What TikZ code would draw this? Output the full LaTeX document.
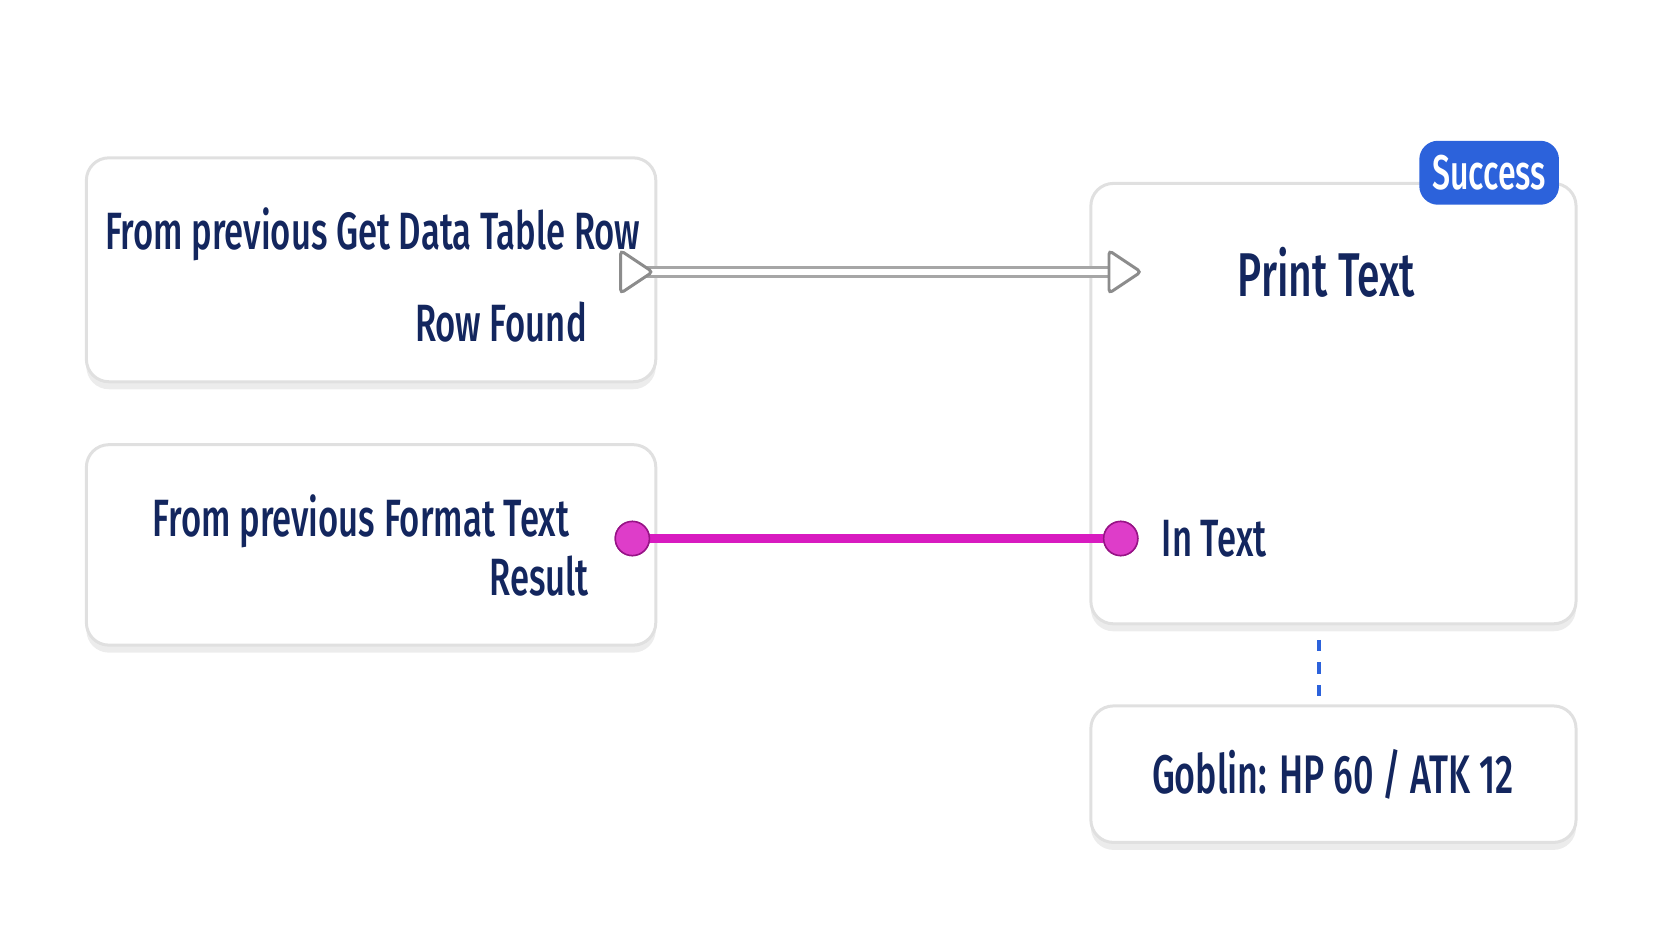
\documentclass[tikz,border=0pt]{standalone}
\usepackage{fontspec}
\setmainfont{Fira Sans}[FakeStretch=0.66, BoldFont={Fira Sans Medium}]
\usetikzlibrary{positioning,shadows}
\definecolor{navy}{HTML}{13265E}
\definecolor{pinkwire}{HTML}{D81BC0}
\definecolor{badge}{HTML}{2C62DB}
\tikzset{
  box/.style={draw=black!12, fill=white, rounded corners=6pt, line width=0.8pt,
    drop shadow={shadow xshift=0pt, shadow yshift=-2pt, opacity=0.15}},
  lbl/.style={text=navy, font=\fontsize{14}{17}\selectfont\bfseries, inner sep=0pt},
  pin/.style={circle, draw=pinkwire!70!black, fill=pinkwire!85, minimum size=0.32cm, inner sep=0pt}
}
\begin{document}
\begin{tikzpicture}[>=latex]
\useasboundingbox (0,0) rectangle (15.68,8.82);
% Blocks
\node [box, minimum width=5.34cm, minimum height=2.1cm] (getrow) at (3.48,6.29) {};
\node [box, minimum width=5.34cm, minimum height=1.88cm] (format) at (3.48,3.71) {};
\node [box, minimum width=4.55cm, minimum height=4.13cm] (print) at (12.505,5.035) {};
\node [box, minimum width=4.55cm, minimum height=1.28cm] (goblin) at (12.505,1.56) {};
\node [fill=badge, rounded corners=5pt, minimum width=1.31cm, minimum height=0.6cm,
  text=white, font=\fontsize{13}{16}\selectfont\bfseries] (success) at (13.965,7.2) {Success};
% Texts
\node [lbl] (getrowtxt) at (3.495,6.62) {From previous Get Data Table Row};
\node [lbl, anchor=east] (rowfound) at (5.51,5.8) {Row Found};
\node [lbl] (formattxt) at (3.385,3.93) {From previous Format Text};
\node [lbl, anchor=east] (result) at (5.53,3.42) {Result};
\node [lbl, font=\fontsize{16.5}{20}\selectfont\bfseries] (printtxt) at (12.44,6.27) {Print Text};
\node [lbl, anchor=west] (intext) at (10.89,3.77) {In Text};
\node [lbl, font=\fontsize{14.5}{18}\selectfont\bfseries] (gobtxt) at (12.5,1.56) {Goblin: HP 60 / ATK 12};
% Ports
\coordinate (execout) at (5.97,6.27);
\coordinate (execin) at (10.55,6.27);
\node [pin] (resout) at (5.93,3.77) {};
\node [pin] (textin) at (10.51,3.77) {};
\coordinate (dashtop) at (12.37,2.82);
\coordinate (dashbot) at (12.37,2.24);
% Connections
\draw [black!35, line width=3.2pt] (execout) -- (execin);
\draw [white, line width=1.8pt] (execout) -- (execin);
\foreach \p in {execout, execin}
  \draw [black!45, fill=white, line width=0.8pt, rounded corners=1pt]
    ([xshift=-0.15cm,yshift=0.2cm]\p) -- ([xshift=0.15cm]\p) -- ([xshift=-0.15cm,yshift=-0.2cm]\p) -- cycle;
\draw [pinkwire, line width=2.5pt] (resout) -- (textin);
\node [pin] at (resout) {};
\node [pin] at (textin) {};
\draw [badge, dashed, line width=0.9pt] (dashtop) -- (dashbot);
\end{tikzpicture}
\end{document}
